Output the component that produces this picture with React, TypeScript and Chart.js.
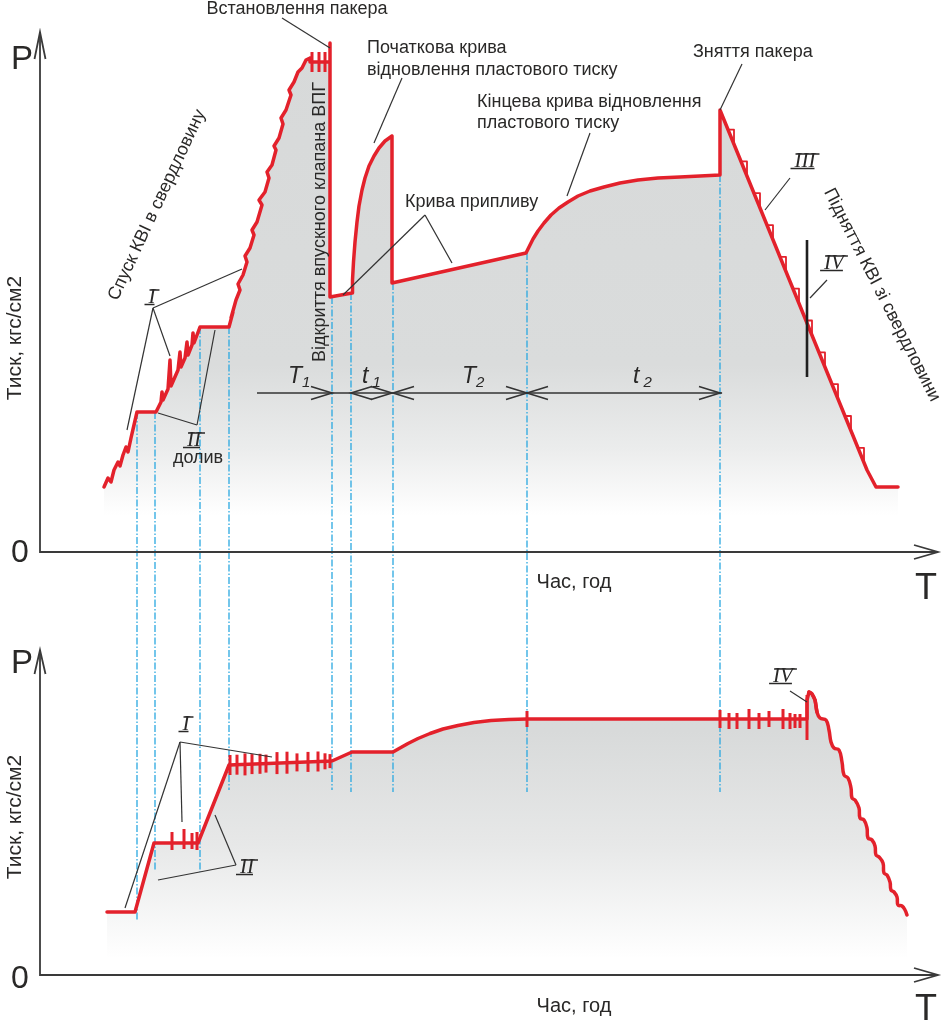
import React, { useEffect, useRef } from "react";
import { Chart, registerables } from "chart.js";

Chart.register(...registerables);

const RED = "#e3212b";
const BLUE = "#2aa8e0";
const INK = "#2a2928";
const SANS = '"Liberation Sans", Arial, sans-serif';
const SERIF = '"Liberation Serif", "DejaVu Serif", serif';

type Pt = [number, number];

// ---------- top chart: time (arb. units) / pressure (arb. units) ----------
const topTrace: Pt[] = [
  [64, 65], [68, 74], [71, 70], [74, 82], [78, 90], [80, 86], [83, 97], [86, 105], [88, 100], [91, 114], [94, 127], [97, 140],
  [116, 140],
  [121, 150], [122, 160], [123, 152], [128, 163], [130, 192], [131, 166], [138, 182], [140, 200], [141, 185], [145, 194],
  [147, 210], [148, 197], [152, 207], [153, 219], [154, 209], [160, 225],
  [189, 225],
  [193, 240], [191, 234], [196, 252], [200, 262], [198, 268], [203, 277], [207, 290], [205, 296], [210, 304], [214, 317],
  [212, 322], [217, 330], [222, 347], [219, 352], [225, 360], [229, 374], [227, 380], [232, 387], [236, 402], [234, 406],
  [239, 414], [243, 428], [241, 434], [246, 442], [251, 457], [249, 462], [254, 470], [258, 480], [262, 484], [266, 492],
  [270, 494], [270, 490], [290, 490], [290, 509], [290, 255],
  [312, 259], [312.5, 272], [313.5, 290], [315, 310], [317, 330], [319, 346], [322, 362], [325, 374], [329, 386], [334, 396],
  [339, 404], [345, 411], [352, 416], [352, 269],
  [486, 299], [489, 305], [493, 313], [498, 321], [504, 329], [511, 337], [519, 344], [528, 350], [538, 356], [550, 361],
  [564, 365], [580, 369], [598, 372], [618, 374], [640, 375], [660, 376], [680, 377], [680, 442],
  [827, 82], [836, 65], [858, 65],
];
// small notches along the withdrawal line (III)
const topNotches: Pt[] = [
  [688, 422.4], [694, 422.4], [694, 407.7], [701, 390.6], [707, 390.6], [707, 375.9], [714, 358.8], [720, 358.8],
  [720, 344.1], [727, 326.9], [733, 326.9], [733, 312.2], [740, 295.1], [746, 295.1], [746, 280.4], [753, 263.3],
  [759, 263.3], [759, 248.6], [766, 231.5], [772, 231.5], [772, 216.8], [779, 199.6], [785, 199.6], [785, 184.9],
  [792, 167.8], [798, 167.8], [798, 153.1], [805, 136], [811, 136], [811, 121.3], [818, 104.2], [824, 104.2], [824, 89.5],
];
const topTicksT = [272, 279, 285];
const topTicksP = [490, 490, 490];
const topTicksR = [10, 10, 10];

// ---------- bottom chart ----------
const bottomTrace: Pt[] = [
  [67, 63], [95, 63], [114, 132], [158, 132], [189, 210], [292, 214], [312, 223], [353, 223],
  [360, 227], [368, 231.5], [378, 236.5], [390, 241.5], [403, 246], [418, 249.5], [434, 252.5], [451, 254.5], [469, 255.5],
  [487, 256], [680, 256], [767, 256], [767, 275], [769, 283], [772, 281], [775, 275], [777, 263],
];
const bottomWave: Pt[] = [
  [769, 283], [772, 281], [775, 275], [777, 263], [780, 257], [786, 255], [789, 245], [791, 233], [794, 227], [799, 225],
  [802, 213], [804, 200], [808, 197], [811, 187], [812, 177], [815, 175], [819, 167], [820, 157], [824, 155], [827, 147],
  [828, 137], [832, 135], [835, 129], [836, 120], [839, 118], [843, 112], [844, 102], [847, 100], [850, 93], [851, 85],
  [854, 83], [857, 78], [858, 70], [862, 69], [865, 65], [867, 60],
];
const bottomTicksT = [132, 144, 152, 157, 190, 197, 205, 212, 220, 226, 237, 247, 257, 268, 278, 285, 290,
  487, 680, 689, 697, 709, 719, 729, 743, 750, 755, 760, 767];
const bottomTicksP = [134, 136, 134, 134, 210, 210.3, 210.6, 210.9, 211.2, 211.4, 211.9, 212.3, 212.6, 213.1, 213.5, 213.7, 213.9,
  256, 256, 254, 254, 256, 254, 256, 256, 254, 254, 254, 257.5];
const bottomTicksR = [9, 10, 8, 9, 10, 10, 11, 10, 10, 9, 11, 11, 9, 10, 10, 8, 7,
  8, 9, 8, 8, 10, 8, 8, 10, 8, 7, 7, 22.5];

// ---------- guide lines (time, from pressure, to pressure) ----------
const topGuides: [number, number, number][] = [
  [97, 140, -100], [115, 140, -100], [160, 225, -100], [189, 225, -100], [292, 255, -100],
  [311, 259, -100], [353, 269, -100], [487, 299, -100], [680, 377, -100],
];
const bottomGuides: [number, number, number][] = [
  [97, 400, 55], [115, 400, 105], [160, 400, 103], [189, 400, 185], [292, 400, 185],
  [311, 400, 183], [353, 400, 183], [487, 400, 183], [680, 400, 183],
];

// ---------- annotations ----------
type Seg = [number, number, number, number];
const topLeaders: Seg[] = [
  [242, 534, 290, 504], [362, 474, 334, 409], [550, 419, 527, 356], [385, 337, 303, 257], [385, 337, 412, 289],
  [702, 488, 680, 442], [113, 244, 87, 122], [113, 244, 130, 196], [113, 244, 202, 283], [118, 139, 157, 127],
  [157, 127, 175, 222], [750, 374, 725, 342], [787, 272, 770, 254],
];
const topBold: Seg[] = [[767, 312, 767, 175]];
const bottomLeaders: Seg[] = [
  [140, 233, 85, 67], [140, 233, 142, 153], [140, 233, 232, 218], [196, 110, 118, 95], [196, 110, 175, 160],
  [750, 284, 767, 273],
];

type Label = { s: string; t: number; p: number; align?: CanvasTextAlign; rot?: number };
const topTexts: Label[] = [
  { s: "Встановлення пакера", t: 257, p: 538, align: "center" },
  { s: "Початкова крива", t: 327, p: 499 },
  { s: "відновлення пластового тиску", t: 327, p: 477 },
  { s: "Кінцева крива відновлення", t: 437, p: 445 },
  { s: "пластового тиску", t: 437, p: 424 },
  { s: "Крива припливу", t: 365, p: 345 },
  { s: "Зняття пакера", t: 653, p: 495 },
  { s: "долив", t: 158, p: 89, align: "center" },
];
const topRotTexts: Label[] = [
  { s: "Спуск КВІ в свердловину", t: 117, p: 347, rot: -65 },
  { s: "Відкриття впускного клапана ВПГ", t: 280, p: 330, rot: -90 },
  { s: "Підняття КВІ зі свердловини", t: 842, p: 257, rot: 63 },
];
const topRoman: Label[] = [
  { s: "I", t: 112, p: 255 }, { s: "II", t: 154, p: 112 }, { s: "III", t: 765, p: 391 }, { s: "IV", t: 794, p: 289 },
];
const bottomRoman: Label[] = [
  { s: "I", t: 146, p: 251 }, { s: "II", t: 207, p: 108 }, { s: "IV", t: 743, p: 299 },
];

// dimension line
const dimLevel = 159;
const dimStart = 217;
const dimEnd = 682;
const dimArrows: [number, number][] = [[292, 1], [311, -1], [352, 1], [353, -1], [487, 1], [487, -1], [680, 1]];
const dimLabels: [string, string, number][] = [["T", "1", 248], ["t", "1", 322], ["T", "2", 422], ["t", "2", 593]];
const dimLabelLevel = 169;

type Trace = { pts: Pt[]; tension: number; width: number; fill: boolean };
type Spec = {
  padTop: number;
  padBottom: number;
  ymax: number;
  traces: Trace[];
  ticks: { t: number[]; p: number[]; r: number[] };
  stops: [number, string][];
  guides: [number, number, number][];
  leaders: Seg[];
  bold: Seg[];
  texts: Label[];
  rotTexts: Label[];
  roman: Label[];
  dims: boolean;
  ax: { pY: number; zeroY: number; tY: number; timeY: number; pressY: number; armLen: number };
};

const TOP: Spec = {
  padTop: 32, padBottom: 48, ymax: 520,
  traces: [
    { pts: topTrace, tension: 0, width: 3.5, fill: true },
    { pts: topNotches, tension: 0, width: 1.8, fill: false },
  ],
  ticks: { t: topTicksT, p: topTicksP, r: topTicksR },
  stops: [[0, "#d7d9d9"], [0.64, "#dadcdc"], [0.8, "#ebecec"], [0.93, "#ffffff"], [1, "#ffffff"]],
  guides: topGuides, leaders: topLeaders, bold: topBold, texts: topTexts, rotTexts: topRotTexts, roman: topRoman,
  dims: true,
  ax: { pY: 69, zeroY: 562, tY: 599, timeY: 588, pressY: 338, armLen: 27 },
};
const BOTTOM: Spec = {
  padTop: 50, padBottom: 49, ymax: 325,
  traces: [
    { pts: bottomTrace, tension: 0, width: 3.5, fill: true },
    { pts: bottomWave, tension: 0.45, width: 3.5, fill: true },
  ],
  ticks: { t: bottomTicksT, p: bottomTicksP, r: bottomTicksR },
  stops: [[0, "#d7d9d9"], [0.25, "#d8dada"], [0.6, "#e7e8e8"], [0.95, "#ffffff"], [1, "#ffffff"]],
  guides: bottomGuides, leaders: bottomLeaders, bold: [], texts: [], rotTexts: [], roman: bottomRoman,
  dims: false,
  ax: { pY: 73, zeroY: 388, tY: 420, timeY: 412, pressY: 217, armLen: 24 },
};

function decoPlugin(spec: Spec) {
  return {
    id: "deco",
    beforeDatasetsDraw(chart: any) {
      const { ctx, scales } = chart;
      const X = (v: number) => scales.x.getPixelForValue(v);
      const Y = (v: number) => scales.y.getPixelForValue(v);
      ctx.save();
      ctx.strokeStyle = BLUE;
      ctx.lineWidth = 1.3;
      ctx.setLineDash([7, 2, 1.5, 2]);
      for (const [t, p0, p1] of spec.guides) {
        ctx.beginPath();
        ctx.moveTo(X(t), Y(p0));
        ctx.lineTo(X(t), Y(p1));
        ctx.stroke();
      }
      ctx.restore();
    },
    afterDatasetsDraw(chart: any) {
      const { ctx, scales, chartArea: a } = chart;
      const X = (v: number) => scales.x.getPixelForValue(v);
      const Y = (v: number) => scales.y.getPixelForValue(v);
      ctx.save();
      // axes
      ctx.strokeStyle = "#3a3a3a";
      ctx.lineWidth = 1.8;
      ctx.lineJoin = "miter";
      ctx.beginPath();
      ctx.moveTo(a.left, a.top);
      ctx.lineTo(a.left, a.bottom);
      ctx.lineTo(a.right, a.bottom);
      ctx.stroke();
      ctx.beginPath();
      ctx.moveTo(a.left - 5.5, a.top + spec.ax.armLen);
      ctx.lineTo(a.left, a.top);
      ctx.lineTo(a.left + 5.5, a.top + spec.ax.armLen);
      ctx.moveTo(a.right - 24, a.bottom - 7);
      ctx.lineTo(a.right, a.bottom);
      ctx.lineTo(a.right - 24, a.bottom + 7);
      ctx.stroke();

      ctx.fillStyle = INK;
      ctx.textBaseline = "alphabetic";
      ctx.textAlign = "left";
      ctx.font = `33px ${SANS}`;
      ctx.fillText("P", 11, spec.ax.pY);
      ctx.font = `32px ${SANS}`;
      ctx.fillText("0", 11, spec.ax.zeroY);
      ctx.font = `36px ${SANS}`;
      ctx.fillText("T", 915, spec.ax.tY);
      ctx.font = `20px ${SANS}`;
      ctx.textAlign = "center";
      ctx.fillText("Час, год", 574, spec.ax.timeY);
      ctx.save();
      ctx.translate(15, spec.ax.pressY);
      ctx.rotate(-Math.PI / 2);
      ctx.font = `21px ${SANS}`;
      ctx.textBaseline = "middle";
      ctx.fillText("Тиск, кгс/см2", 0, 0);
      ctx.restore();

      // leaders
      ctx.strokeStyle = "#333";
      ctx.lineWidth = 1.2;
      for (const [t0, p0, t1, p1] of spec.leaders) {
        ctx.beginPath();
        ctx.moveTo(X(t0), Y(p0));
        ctx.lineTo(X(t1), Y(p1));
        ctx.stroke();
      }
      ctx.strokeStyle = "#1f1f1f";
      ctx.lineWidth = 2.6;
      for (const [t0, p0, t1, p1] of spec.bold) {
        ctx.beginPath();
        ctx.moveTo(X(t0), Y(p0));
        ctx.lineTo(X(t1), Y(p1));
        ctx.stroke();
      }

      // texts
      ctx.font = `18px ${SANS}`;
      ctx.fillStyle = INK;
      for (const l of spec.texts) {
        ctx.textAlign = l.align || "left";
        ctx.textBaseline = "alphabetic";
        ctx.fillText(l.s, X(l.t), Y(l.p));
      }
      for (const l of spec.rotTexts) {
        ctx.save();
        ctx.translate(X(l.t), Y(l.p));
        ctx.rotate(((l.rot || 0) * Math.PI) / 180);
        ctx.textAlign = "center";
        ctx.textBaseline = "middle";
        ctx.fillText(l.s, 0, 0);
        ctx.restore();
      }
      // roman numerals with bars above and below
      ctx.font = `italic 21px ${SERIF}`;
      ctx.strokeStyle = INK;
      ctx.lineWidth = 1.6;
      for (const l of spec.roman) {
        const cx = X(l.t);
        const cy = Y(l.p);
        ctx.textAlign = "center";
        ctx.textBaseline = "middle";
        ctx.fillText(l.s, cx, cy);
        const w = ctx.measureText(l.s).width;
        ctx.beginPath();
        ctx.moveTo(cx - w / 2 + 1, cy - 7);
        ctx.lineTo(cx + w / 2 + 4, cy - 7);
        ctx.moveTo(cx - w / 2 - 4, cy + 7.5);
        ctx.lineTo(cx + w / 2 - 1, cy + 7.5);
        ctx.stroke();
      }

      // dimension line
      if (spec.dims) {
        const y = Y(dimLevel);
        ctx.strokeStyle = "#333";
        ctx.lineWidth = 1.6;
        ctx.beginPath();
        ctx.moveTo(X(dimStart), y);
        ctx.lineTo(X(dimEnd), y);
        ctx.stroke();
        for (const [t, dir] of dimArrows) {
          const x = X(t);
          ctx.beginPath();
          ctx.moveTo(x - dir * 21, y - 6.5);
          ctx.lineTo(x, y);
          ctx.lineTo(x - dir * 21, y + 6.5);
          ctx.stroke();
        }
        for (const [m, sub, t] of dimLabels) {
          const x = X(t);
          ctx.textAlign = "left";
          ctx.textBaseline = "alphabetic";
          ctx.font = `italic 23px ${SANS}`;
          ctx.fillText(m, x, Y(dimLabelLevel));
          const w = ctx.measureText(m).width;
          ctx.font = `italic 15px ${SANS}`;
          ctx.fillText(sub, x + w + (m === "t" ? 4 : 0), Y(dimLabelLevel) + 4);
        }
      }
      ctx.restore();
    },
  };
}

function makeChart(canvas: HTMLCanvasElement, spec: Spec) {
  const grad = (c: any) => {
    const ch = c.chart;
    const area = ch.chartArea;
    if (!area) return "rgba(0,0,0,0)";
    const g = ch.ctx.createLinearGradient(0, area.top, 0, area.bottom);
    for (const [o, col] of spec.stops) g.addColorStop(o, col);
    return g;
  };
  const datasets: any[] = [
    {
      data: spec.ticks.t.map((t, i) => ({ x: t, y: spec.ticks.p[i] })),
      showLine: false,
      pointStyle: "line",
      pointRotation: 90,
      pointRadius: spec.ticks.r,
      pointBorderWidth: 3,
      pointBorderColor: RED,
      pointBackgroundColor: RED,
      fill: false,
    },
    ...spec.traces.map((tr) => ({
      data: tr.pts.map(([x, y]) => ({ x, y })),
      borderColor: RED,
      borderWidth: tr.width,
      borderJoinStyle: "round",
      borderCapStyle: "round",
      tension: tr.tension,
      pointRadius: 0,
      fill: tr.fill ? "origin" : false,
      backgroundColor: grad,
    })),
  ];
  return new Chart(canvas, {
    type: "line",
    data: { datasets },
    options: {
      animation: false,
      responsive: false,
      events: [],
      layout: { autoPadding: false, padding: { left: 40, right: 4, top: spec.padTop, bottom: spec.padBottom } },
      plugins: {
        legend: { display: false },
        tooltip: { enabled: false },
        filler: { drawTime: "beforeDatasetsDraw" },
      } as any,
      scales: {
        x: { type: "linear", min: 0, max: 898, display: false },
        y: { type: "linear", min: 0, max: spec.ymax, display: false },
      },
    } as any,
    plugins: [decoPlugin(spec) as any],
  });
}

export default function App() {
  const topRef = useRef<HTMLCanvasElement>(null);
  const botRef = useRef<HTMLCanvasElement>(null);
  useEffect(() => {
    const a = makeChart(topRef.current!, TOP);
    const b = makeChart(botRef.current!, BOTTOM);
    return () => {
      a.destroy();
      b.destroy();
    };
  }, []);
  return (
    <div style={{ position: "absolute", left: 0, top: 0, width: 942, height: 1024, background: "#fff" }}>
      <canvas ref={topRef} width={942} height={600} style={{ position: "absolute", left: 0, top: 0, width: 942, height: 600 }} />
      <canvas ref={botRef} width={942} height={424} style={{ position: "absolute", left: 0, top: 600, width: 942, height: 424 }} />
    </div>
  );
}
